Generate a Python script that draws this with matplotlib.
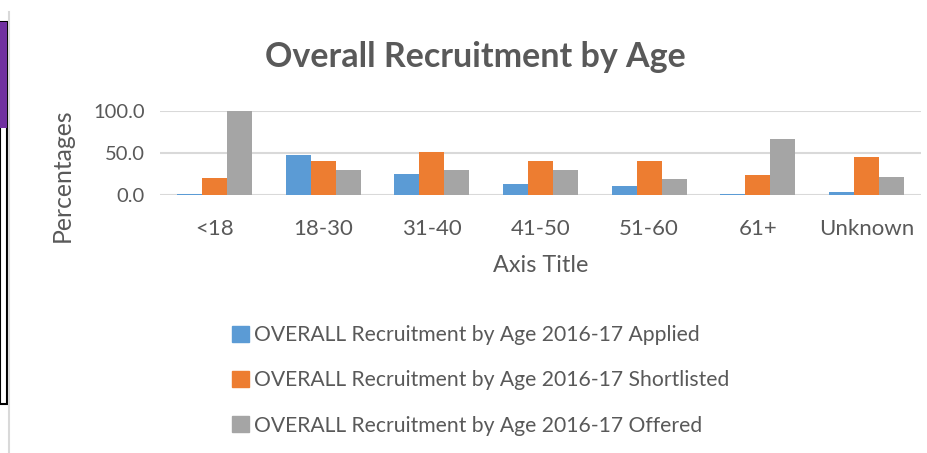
import matplotlib
matplotlib.use("Agg")
import matplotlib.pyplot as plt
import matplotlib.patches as mpatches
import numpy as np

plt.rcParams['font.family'] = ['Lato', 'DejaVu Sans']

categories = ["<18", "18-30", "31-40", "41-50", "51-60", "61+", "Unknown"]
applied = [1.0, 47.4, 24.7, 13.0, 10.4, 1.0, 4.0]
shortlisted = [20.0, 40.2, 51.0, 40.0, 40.0, 23.5, 45.0]
offered = [100.0, 29.5, 29.5, 29.5, 18.7, 66.5, 22.0]
series_names = [
    "OVERALL Recruitment by Age 2016-17 Applied",
    "OVERALL Recruitment by Age 2016-17 Shortlisted",
    "OVERALL Recruitment by Age 2016-17 Offered",
]
colors = ["#5b9bd5", "#ed7d31", "#a5a5a5"]
text_col = "#595959"

W, H = 928, 453
fig = plt.figure(figsize=(W / 100, H / 100), dpi=100)

# plot area in pixels: x 160..921, y 111..195
ax = fig.add_axes([160 / W, 1 - 195 / H, (921 - 160) / W, (195 - 111) / H])

x = np.arange(len(categories))
bw = 0.23
for i, vals in enumerate([applied, shortlisted, offered]):
    ax.bar(x + (i - 1) * bw, vals, width=bw, color=colors[i], zorder=3)

ax.set_xlim(-0.5, len(categories) - 0.5)
ax.set_ylim(0, 100)
ax.set_yticks([0, 50, 100])
ax.set_yticklabels(["0.0", "50.0", "100.0"])
ax.set_xticks(x)
ax.set_xticklabels(categories)
ax.tick_params(length=0, colors=text_col)
ax.tick_params(axis="x", pad=17, labelsize=16)
ax.tick_params(axis="y", pad=11, labelsize=14.5)
ax.yaxis.grid(True, color="#d9d9d9", linewidth=1.5, zorder=0)
for s in ax.spines.values():
    s.set_visible(False)

ax.set_xlabel("Axis Title", fontsize=16.8, color=text_col, labelpad=12)
ax.set_ylabel("Percentages", fontsize=17.8, color=text_col)
ax.yaxis.set_label_coords((74 - 160) / (921 - 160), (195 - 175) / (195 - 111))

fig.text(475 / W, 1 - 57 / H, "Overall Recruitment by Age", fontsize=24.5,
         fontweight="bold", color=text_col, ha="center", va="center")

# legend
handles = [mpatches.Patch(color=c, label=n) for c, n in zip(colors, series_names)]
fig.legend(handles=handles, loc="upper left", bbox_to_anchor=(213 / W, 1 - 306 / H),
           frameon=False, fontsize=15.2, labelcolor=text_col, handlelength=0.8,
           handleheight=0.8, handletextpad=0.25, labelspacing=1.2)

# left edge artifacts from screenshot
fig.patches.append(mpatches.Rectangle((0, 1 - 404 / H), 7 / W, (404 - 22) / H,
                                      transform=fig.transFigure, facecolor="white",
                                      edgecolor="black", linewidth=1.5))
fig.patches.append(mpatches.Rectangle((0, 1 - 128 / H), 7 / W, (128 - 22) / H,
                                      transform=fig.transFigure, facecolor="#7030a0",
                                      edgecolor="none"))
fig.lines.append(plt.Line2D([9 / W, 9 / W], [0, 1 - 12 / H], transform=fig.transFigure,
                            color="#d9d9d9", linewidth=1.5))

fig.savefig("out.png", dpi=100)
